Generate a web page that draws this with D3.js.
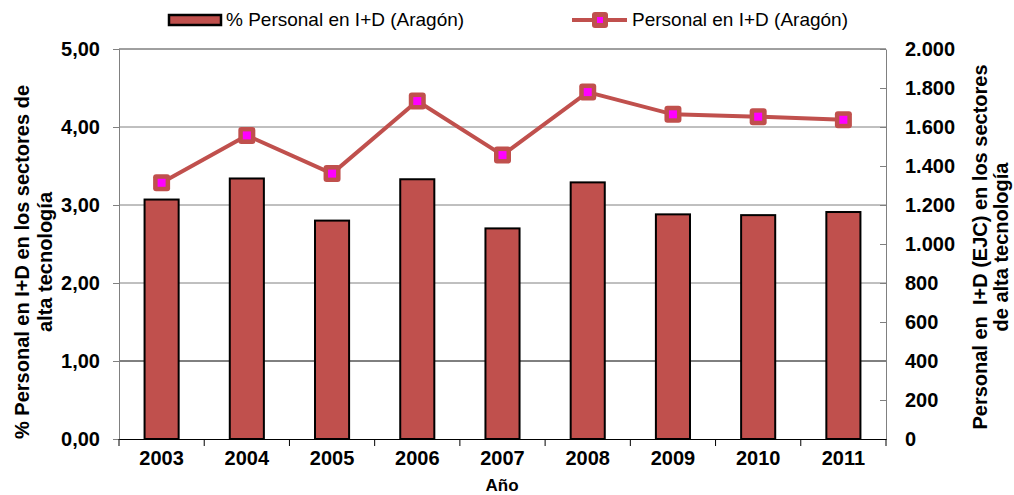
<!DOCTYPE html>
<html>
<head>
<meta charset="utf-8">
<script src="https://cdn.jsdelivr.net/npm/d3@7"></script>
<style>
  body { margin: 0; background: #fff; }
  svg { font-family: "Liberation Sans", Arial, sans-serif; }
</style>
</head>
<body>
<div id="chart"></div>
<script>
// data
const years = ['2003', '2004', '2005', '2006', '2007', '2008', '2009', '2010', '2011'];
const pctPersonal = [3.07, 3.34, 2.80, 3.33, 2.70, 3.29, 2.88, 2.87, 2.91];
const personalEJC = [1314, 1557, 1361, 1733, 1456, 1779, 1665, 1653, 1637];
const leftTicks = [0, 1, 2, 3, 4, 5];
const rightTicks = [0, 200, 400, 600, 800, 1000, 1200, 1400, 1600, 1800, 2000];

const width = 1014, height = 495;
const margin = { top: 49, right: 128, bottom: 56, left: 119 };
const red = '#c0504d';

const svg = d3.select('#chart').append('svg')
  .attr('width', width)
  .attr('height', height);

const x = d3.scaleBand()
  .domain(years)
  .range([margin.left, width - margin.right])
  .paddingInner(0.6)
  .paddingOuter(0.3);

const yL = d3.scaleLinear().domain([0, 5]).range([height - margin.bottom, margin.top]);
const yR = d3.scaleLinear().domain([0, 2000]).range([height - margin.bottom, margin.top]);

const x0 = margin.left, x1 = width - margin.right;
const yBottom = height - margin.bottom;

// gridlines
svg.append('g')
  .selectAll('line')
  .data(leftTicks.slice(1))
  .enter().append('line')
  .attr('x1', x0).attr('x2', x1)
  .attr('y1', d => yL(d)).attr('y2', d => yL(d))
  .attr('stroke', d => d === 1 ? '#000' : '#808080')
  .attr('stroke-width', 1);

// bars
svg.append('g')
  .selectAll('rect')
  .data(pctPersonal)
  .enter().append('rect')
  .attr('x', (d, i) => x(years[i]))
  .attr('y', d => yL(d))
  .attr('width', x.bandwidth())
  .attr('height', d => yBottom - yL(d))
  .attr('fill', red)
  .attr('stroke', '#000')
  .attr('stroke-width', 2);

// left axis
const leftAxis = d3.axisLeft(yL)
  .tickValues(leftTicks)
  .tickSize(6)
  .tickPadding(13)
  .tickFormat(d => d3.format('.2f')(d).replace('.', ','));
const gl = svg.append('g').attr('transform', `translate(${x0},0)`).call(leftAxis);
gl.select('.domain').attr('stroke', '#808080');
gl.selectAll('.tick line').attr('stroke', '#808080');
gl.selectAll('text').attr('font-size', 20).attr('font-weight', 'bold').attr('fill', '#000');

// right axis
const rightAxis = d3.axisRight(yR)
  .tickValues(rightTicks)
  .tickSizeInner(-6)
  .tickSizeOuter(0)
  .tickPadding(19)
  .tickFormat(d => d3.format(',')(d).replace(/,/g, '.'));
const gr = svg.append('g').attr('transform', `translate(${x1},0)`).call(rightAxis);
gr.select('.domain').attr('stroke', '#808080');
gr.selectAll('.tick line').attr('stroke', '#808080');
gr.selectAll('text').attr('font-size', 20).attr('font-weight', 'bold').attr('fill', '#000');

// top border
svg.append('line')
  .attr('x1', x0).attr('x2', x1)
  .attr('y1', margin.top).attr('y2', margin.top)
  .attr('stroke', '#808080');

// x axis
const xAxis = d3.axisBottom(x).tickSize(0).tickPadding(12);
const gx = svg.append('g').attr('transform', `translate(0,${yBottom})`).call(xAxis);
gx.select('.domain').attr('stroke', '#000');
gx.selectAll('text').attr('font-size', 20).attr('font-weight', 'bold').attr('fill', '#000');
// category separators
const step = x.step();
gx.selectAll('.sep')
  .data(d3.range(years.length + 1))
  .enter().append('line')
  .attr('x1', i => x0 + i * step).attr('x2', i => x0 + i * step)
  .attr('y1', 0).attr('y2', 7)
  .attr('stroke', '#000');

// line series
const cx = (d, i) => x(years[i]) + x.bandwidth() / 2;
const line = d3.line().x(cx).y(d => yR(d));
svg.append('path')
  .datum(personalEJC)
  .attr('d', line)
  .attr('fill', 'none')
  .attr('stroke', red)
  .attr('stroke-width', 4);

const markers = svg.append('g')
  .selectAll('g')
  .data(personalEJC)
  .enter().append('g')
  .attr('transform', (d, i) => `translate(${cx(d, i)},${yR(d)})`);
markers.append('rect')
  .attr('x', -8.5).attr('y', -8.5).attr('width', 17).attr('height', 17)
  .attr('rx', 3).attr('fill', red);
markers.append('rect')
  .attr('x', -4).attr('y', -4).attr('width', 8).attr('height', 8)
  .attr('fill', '#ff00ff');

// axis titles
svg.append('text')
  .attr('x', 502).attr('y', 491)
  .attr('text-anchor', 'middle')
  .attr('font-size', 17).attr('font-weight', 'bold')
  .text('Año');

const lt = svg.append('text')
  .attr('transform', 'translate(29,262) rotate(-90)')
  .attr('text-anchor', 'middle')
  .attr('font-size', 20).attr('font-weight', 'bold');
lt.append('tspan').attr('x', 0).attr('dy', 0).text('% Personal en I+D en los sectores de');
lt.append('tspan').attr('x', 0).attr('dy', 23).text('alta tecnología');

const rt = svg.append('text')
  .attr('transform', 'translate(987,247) rotate(-90)')
  .attr('text-anchor', 'middle')
  .attr('font-size', 20).attr('font-weight', 'bold')
  .attr('xml:space', 'preserve');
rt.append('tspan').attr('x', 0).attr('dy', 0).text('Personal en  I+D (EJC) en los sectores');
rt.append('tspan').attr('x', 0).attr('dy', 21).text('de alta tecnología');

// legend
const lg = svg.append('g');
lg.append('rect')
  .attr('x', 169).attr('y', 15).attr('width', 52).attr('height', 10)
  .attr('fill', red).attr('stroke', '#000').attr('stroke-width', 2.5);
lg.append('text')
  .attr('x', 226).attr('y', 26)
  .attr('font-size', 19)
  .text('% Personal en I+D (Aragón)');
lg.append('line')
  .attr('x1', 572).attr('x2', 627).attr('y1', 20).attr('y2', 20)
  .attr('stroke', red).attr('stroke-width', 4);
lg.append('rect')
  .attr('x', 592).attr('y', 12).attr('width', 16).attr('height', 16)
  .attr('rx', 3).attr('fill', red);
lg.append('rect')
  .attr('x', 597).attr('y', 17).attr('width', 6).attr('height', 6)
  .attr('fill', '#ff00ff');
lg.append('text')
  .attr('x', 632).attr('y', 26)
  .attr('font-size', 19)
  .text('Personal en I+D (Aragón)');
</script>
</body>
</html>
